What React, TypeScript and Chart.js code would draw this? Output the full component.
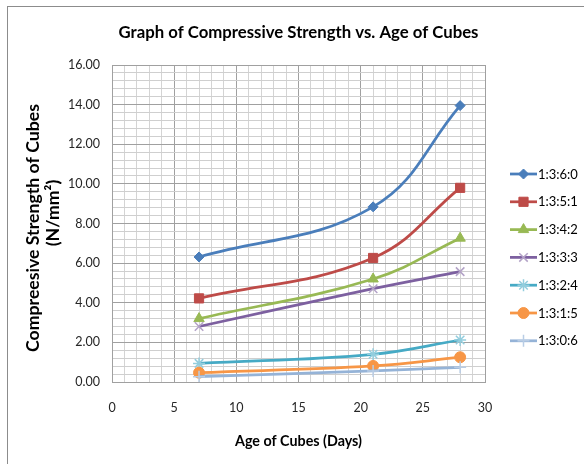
import { useEffect, useRef } from 'react';
import { Chart, registerables } from 'chart.js';
import { drawPoint } from 'chart.js/helpers';

Chart.register(...registerables);

// ---- data ----
const days = [7, 21, 28];
const mixes = ['1:3:6:0', '1:3:5:1', '1:3:4:2', '1:3:3:3', '1:3:2:4', '1:3:1:5', '1:3:0:6'];
const mix1 = [6.31, 8.84, 13.95];
const mix2 = [4.22, 6.26, 9.8];
const mix3 = [3.2, 5.2, 7.26];
const mix4 = [2.8, 4.71, 5.57];
const mix5 = [0.94, 1.4, 2.12];
const mix6 = [0.47, 0.81, 1.25];
const mix7 = [0.27, 0.56, 0.74];
const seriesValues = [mix1, mix2, mix3, mix4, mix5, mix6, mix7];

const chartTitle = 'Graph of Compressive Strength vs. Age of Cubes';
const yTitle1 = 'Compreesive Strength of Cubes';
const yTitle2 = '(N/mm\u00B2)';
const xTitle = 'Age of Cubes (Days)';

// ---- styles ----
const lineColors = ['#4A7EBB', '#BE4B48', '#98B954', '#7D60A0', '#46AAC5', '#F79646', '#95B3D7'];
const markerColors = ['#4A7EBB', '#BE4B48', '#98B954', '#B3A2C7', '#93CDDD', '#F79646', '#B9CDE5'];
const markerStyles = ['rectRot', 'rect', 'triangle', 'crossRot', 'star', 'circle', 'cross'];
const markerRadius = [5, 6.5, 6, 6, 6, 5.5, 6];
const markerBorder = [1, 1, 1, 1.5, 1.5, 1, 1.5];

const FONT = 'Lato, "Open Sans", sans-serif';

function fitSize(ctx: CanvasRenderingContext2D, text: string, weight: string, target: number) {
  ctx.font = `${weight} 100px ${FONT}`;
  const w = ctx.measureText(text).width;
  return (100 * target) / w;
}

const decor = {
  id: 'decor',
  beforeDraw(chart: any) {
    const ctx: CanvasRenderingContext2D = chart.ctx;
    ctx.save();
    ctx.fillStyle = '#ffffff';
    ctx.fillRect(0, 0, chart.width, chart.height);
    ctx.strokeStyle = '#8c8c8c';
    ctx.lineWidth = 1;
    ctx.strokeRect(7.5, 6.5, 640, 520);
    ctx.restore();
  },
  afterDraw(chart: any) {
    const ctx: CanvasRenderingContext2D = chart.ctx;
    const area = chart.chartArea;
    const cx = (area.left + area.right) / 2;
    ctx.save();
    ctx.fillStyle = '#000000';
    ctx.textAlign = 'center';
    ctx.textBaseline = 'middle';
    // chart title
    let s = fitSize(ctx, chartTitle, 'bold', 360);
    ctx.font = `bold ${s}px ${FONT}`;
    ctx.fillText(chartTitle, cx, 33);
    // x title
    s = fitSize(ctx, xTitle, 'bold', 127);
    ctx.font = `bold ${s}px ${FONT}`;
    ctx.fillText(xTitle, cx, 441);
    // y title
    s = fitSize(ctx, yTitle1, 'bold', 248);
    ctx.font = `bold ${s}px ${FONT}`;
    ctx.save();
    ctx.translate(33, 228);
    ctx.rotate(-Math.PI / 2);
    ctx.fillText(yTitle1, 0, 0);
    ctx.restore();
    ctx.save();
    ctx.translate(53, 213);
    ctx.rotate(-Math.PI / 2);
    ctx.fillText(yTitle2, 0, 0);
    ctx.restore();

    // legend
    ctx.font = `13px ${FONT}`;
    ctx.textAlign = 'left';
    chart.data.datasets.forEach((ds: any, i: number) => {
      const y = 174 + i * 27.8;
      ctx.strokeStyle = ds.borderColor;
      ctx.lineWidth = 2.75;
      ctx.beginPath();
      ctx.moveTo(510, y);
      ctx.lineTo(537, y);
      ctx.stroke();
      ctx.fillStyle = ds.pointBackgroundColor;
      ctx.strokeStyle = ds.pointBorderColor;
      ctx.lineWidth = ds.pointBorderWidth;
      drawPoint(ctx, { pointStyle: ds.pointStyle, radius: ds.pointRadius, rotation: 0, borderWidth: ds.pointBorderWidth } as any, 523.5, y);
      ctx.fillStyle = '#000000';
      ctx.fillText(mixes[i], 538, y + 0.5);
    });
    ctx.restore();
  },
};

export default function App() {
  const ref = useRef<HTMLCanvasElement | null>(null);

  useEffect(() => {
    document.body.style.margin = '0';
    const canvas = ref.current;
    if (!canvas) return;
    const datasets = seriesValues.map((vals, i) => ({
      label: mixes[i],
      data: days.map((d, j) => ({ x: d, y: vals[j] })),
      borderColor: lineColors[i],
      backgroundColor: lineColors[i],
      borderWidth: 2.75,
      tension: 0.4,
      pointStyle: markerStyles[i],
      pointRadius: markerRadius[i],
      pointBackgroundColor: markerColors[i],
      pointBorderColor: markerColors[i],
      pointBorderWidth: markerBorder[i],
      order: seriesValues.length - i,
      fill: false,
    }));

    const chart = new Chart(canvas, {
      type: 'line',
      data: { datasets },
      plugins: [decor],
      options: {
        responsive: false,
        animation: false,
        devicePixelRatio: window.devicePixelRatio || 1,
        layout: { padding: { top: 65, right: 99, left: 0, bottom: 0 } },
        plugins: {
          legend: { display: false },
          title: { display: false },
          tooltip: { enabled: false },
        },
        font: { family: FONT },
        scales: {
          x: {
            type: 'linear',
            min: 0,
            max: 30,
            afterBuildTicks: (scale: any) => {
              scale.ticks = Array.from({ length: 31 }, (_, i) => ({ value: i }));
            },
            afterFit: (scale: any) => {
              scale.height = 82;
            },
            ticks: {
              autoSkip: false,
              maxRotation: 0,
              padding: 18,
              color: '#262626',
              font: { family: FONT, size: 12.5 },
              callback: (v: any) => (Number(v) % 5 === 0 ? String(v) : ''),
            },
            grid: {
              drawTicks: false,
              color: (c: any) => (c.tick && c.tick.value % 5 === 0 ? '#a0a0a0' : '#d4d4d4'),
              lineWidth: 1,
            },
            border: { color: '#a0a0a0' },
          },
          y: {
            type: 'linear',
            min: 0,
            max: 16,
            afterBuildTicks: (scale: any) => {
              scale.ticks = Array.from({ length: 41 }, (_, i) => ({ value: Math.round(i * 4) / 10 }));
            },
            afterFit: (scale: any) => {
              scale.width = 112;
            },
            ticks: {
              autoSkip: false,
              padding: 12,
              color: '#262626',
              font: { family: FONT, size: 12.5 },
              callback: (v: any, i: number) => (i % 5 === 0 ? Number(v).toFixed(2) : ''),
            },
            grid: {
              drawTicks: false,
              color: (c: any) => (c.index % 5 === 0 ? '#a0a0a0' : '#cfcfcf'),
              lineWidth: 1,
            },
            border: { color: '#a0a0a0' },
          },
        },
      } as any,
    });
    return () => chart.destroy();
  }, []);

  return (
    <div style={{ width: 584, height: 464 }}>
      <canvas ref={ref} width={584} height={464} style={{ display: 'block', width: 584, height: 464 }} />
    </div>
  );
}
